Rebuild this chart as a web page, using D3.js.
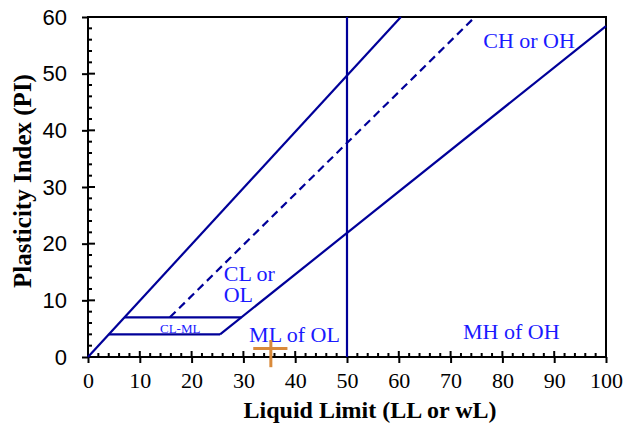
<!DOCTYPE html>
<html>
<head>
<meta charset="utf-8">
<script src="https://cdn.jsdelivr.net/npm/d3@7"></script>
<style>
body { margin: 0; background: #fff; }
.ytick { font-family: "Liberation Sans", Arial, sans-serif; font-size: 22px; }
.xtick { font-family: "Liberation Serif", "Times New Roman", serif; font-size: 22px; }
.title { font-family: "Liberation Serif", "Times New Roman", serif; font-weight: bold; }
.zone { font-family: "Liberation Serif", "Times New Roman", serif; fill: #1a1aff; }
</style>
</head>
<body>
<script>
// chart lines, as [LL, PI] end points
const equalityLine = [[0, 0], [60.4, 60]]
const aLine = [[25.5, 4], [100, 58.4]]
const uLine = [[15.8, 7], [74.7, 60]]
const clmlLow = [[4, 4], [25.5, 4]]
const clmlHigh = [[7, 7], [29.6, 7]]
const ll50 = [[50, 0], [50, 60]]

// sample point with its spread
const sampleLL = 35.3
const samplePI = 1.5
const sampleLLRange = [31.9, 38.5]
const samplePIRange = [-1.8, 3]

const zoneLabels = [
  { text: 'CH or OH', ll: 76.3, pi: 54.5, size: 22 },
  { text: 'CL or', ll: 26.2, pi: 13.4, size: 22 },
  { text: 'OL', ll: 26.2, pi: 9.7, size: 22 },
  { text: 'ML of OL', ll: 31.1, pi: 2.65, size: 22 },
  { text: 'MH of OH', ll: 72.4, pi: 3.2, size: 22 },
  { text: 'CL-ML', ll: 13.9, pi: 4.2, size: 13 }
]

const xTicks = d3.range(0, 101, 10)
const yTicks = d3.range(0, 61, 10)

const width = 630, height = 425
const margin = { left: 88, right: 24, top: 17, bottom: 68 }

const svg = d3.select('body').append('svg')
.attr('width', width)
.attr('height', height)

const x = d3.scaleLinear().domain([0, 100]).range([margin.left, width - margin.right])
const y = d3.scaleLinear().domain([0, 60]).range([height - margin.bottom, margin.top])

const navy = '#000099'

// minor ticks (inside)
const g = svg.append('g')
d3.range(0, 101, 2).forEach(v => {
  g.append('line').attr('x1', x(v)).attr('x2', x(v))
  .attr('y1', y(0)).attr('y2', y(0) - (v % 10 === 0 ? 6 : 4))
  .attr('stroke', '#000').attr('stroke-width', 2)
})
d3.range(0, 61, 2).forEach(v => {
  g.append('line').attr('y1', y(v)).attr('y2', y(v))
  .attr('x1', x(0)).attr('x2', x(0) + (v % 10 === 0 ? 7 : 4))
  .attr('stroke', '#000').attr('stroke-width', 2)
})

// axes with outside major ticks
svg.append('g')
.attr('transform', `translate(0,${y(0)})`)
.call(d3.axisBottom(x).tickValues(xTicks).tickSize(6).tickPadding(9))
.call(a => a.select('.domain').remove())
.call(a => a.selectAll('line').attr('stroke-width', 2))
.call(a => a.selectAll('text').attr('class', 'xtick').attr('fill', '#000'))

svg.append('g')
.attr('transform', `translate(${x(0)},0)`)
.call(d3.axisLeft(y).tickValues(yTicks).tickSize(6).tickPadding(15))
.call(a => a.select('.domain').remove())
.call(a => a.selectAll('line').attr('stroke-width', 2))
.call(a => a.selectAll('text').attr('class', 'ytick').attr('fill', '#000'))

// frame
svg.append('rect')
.attr('x', x(0)).attr('y', y(60))
.attr('width', x(100) - x(0)).attr('height', y(0) - y(60))
.attr('fill', 'none').attr('stroke', '#000').attr('stroke-width', 2)

const line = d3.line().x(d => x(d[0])).y(d => y(d[1]))

;[equalityLine, aLine, clmlLow, clmlHigh, ll50].forEach(seg => {
  svg.append('path').attr('d', line(seg))
  .attr('fill', 'none').attr('stroke', navy).attr('stroke-width', 2.2)
})

svg.append('path').attr('d', line(uLine))
.attr('fill', 'none').attr('stroke', navy).attr('stroke-width', 2.2)
.attr('stroke-dasharray', '8,5')

zoneLabels.forEach(l => {
  svg.append('text').attr('class', 'zone')
  .attr('x', x(l.ll)).attr('y', y(l.pi))
  .style('font-size', l.size + 'px')
  .text(l.text)
})

// sample cross
const orange = '#d98a3a'
svg.append('line')
.attr('x1', x(sampleLLRange[0])).attr('x2', x(sampleLLRange[1]))
.attr('y1', y(samplePI)).attr('y2', y(samplePI))
.attr('stroke', orange).attr('stroke-width', 3)
svg.append('line')
.attr('x1', x(sampleLL)).attr('x2', x(sampleLL))
.attr('y1', y(samplePIRange[0])).attr('y2', y(samplePIRange[1]))
.attr('stroke', orange).attr('stroke-width', 3)

// axis titles
svg.append('text').attr('class', 'title')
.attr('x', 370).attr('y', 418)
.attr('text-anchor', 'middle')
.style('font-size', '24px')
.text('Liquid Limit (LL or wL)')

svg.append('text').attr('class', 'title')
.attr('transform', 'translate(31,181) rotate(-90)')
.attr('text-anchor', 'middle')
.style('font-size', '25px')
.text('Plasticity Index (PI)')
</script>
</body>
</html>
